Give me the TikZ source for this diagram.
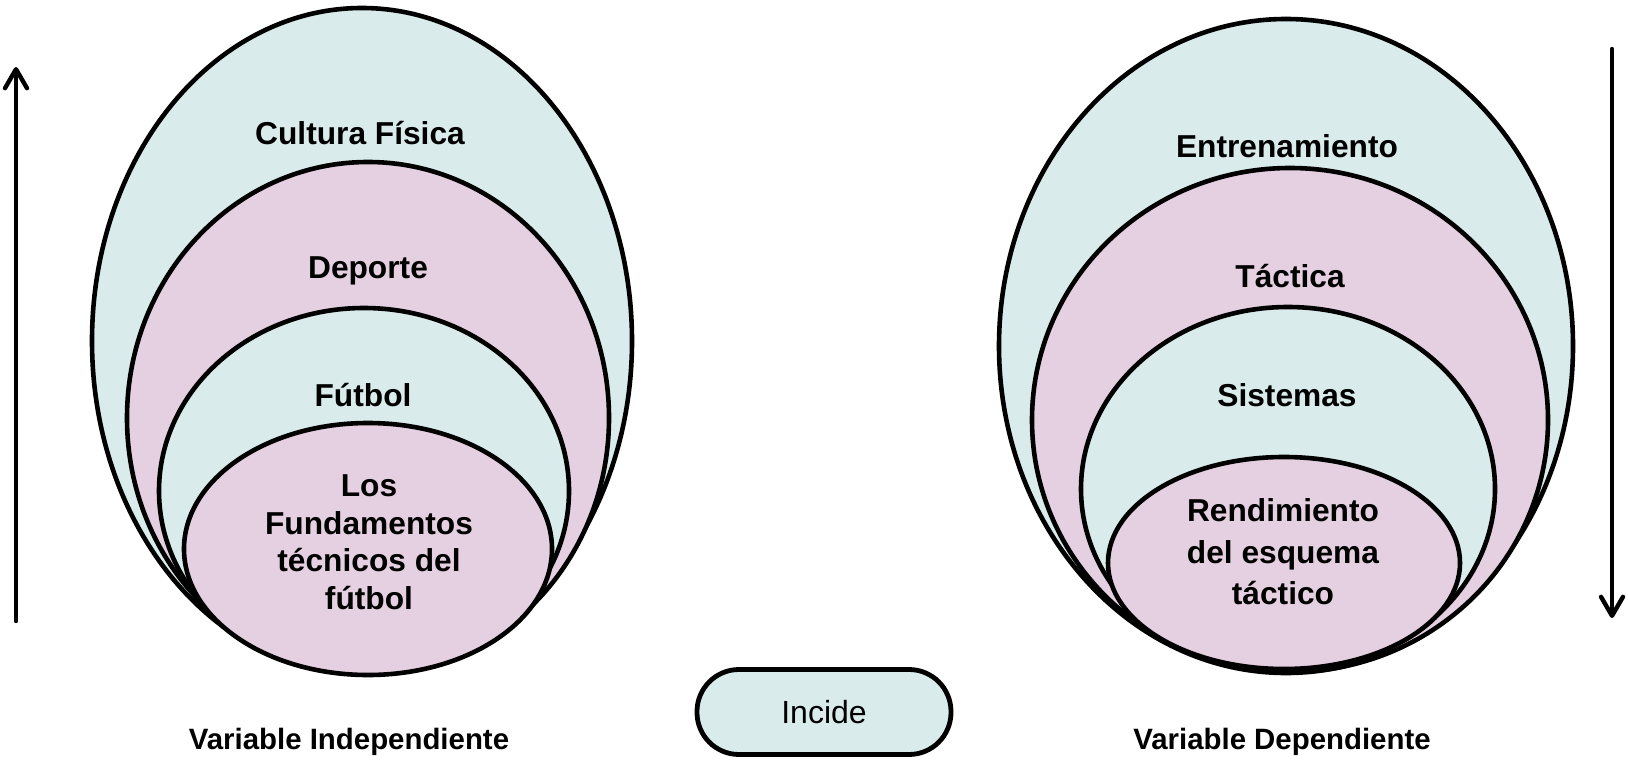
\documentclass[tikz,border=0pt]{standalone}
\usepackage{fontspec}
\setmainfont{Liberation Sans}
\usetikzlibrary{arrows.meta}
\definecolor{aqua}{RGB}{218,235,235}
\definecolor{lilac}{RGB}{228,208,225}
\begin{document}
\begin{tikzpicture}[x=1pt,y=-1pt,
  ring/.style={draw=black,line width=4.6pt},
  lbl/.style={font=\fontsize{31.7}{37.5}\selectfont\bfseries,align=center,inner sep=0pt},
  lbltall/.style={font=\fontsize{31.7}{41.5}\selectfont\bfseries,align=center,inner sep=0pt},
  caption/.style={font=\fontsize{29.4}{34}\selectfont\bfseries,inner sep=0pt},
  flow/.style={line width=4.4pt,line cap=round,-{Straight Barb[length=19pt,width=22pt,line cap=round,line join=round]}}]
\useasboundingbox (0,0) rectangle (1628,760);

% independent variable: nested levels
\draw[ring,fill=aqua]  (362,341) ellipse [x radius=270, y radius=333];
\draw[ring,fill=lilac] (368,418) ellipse [x radius=241, y radius=256];
\draw[ring,fill=aqua]  (364,491) ellipse [x radius=205, y radius=183];
\draw[ring,fill=lilac] (368,549) ellipse [x radius=184, y radius=126];

\node[lbl] (cultura) at (360,133) {Cultura Física};
\node[lbl] (deporte) at (368,271) {Deporte};
\node[lbl] (futbol)  at (363,395) {Fútbol};
\node[lbl] (fundam)  at (369,542) {Los\\Fundamentos\\técnicos del\\fútbol};

% dependent variable: nested levels
\draw[ring,fill=aqua]  (1286,346) ellipse [x radius=287, y radius=327];
\draw[ring,fill=lilac] (1290,420) ellipse [x radius=258, y radius=252];
\draw[ring,fill=aqua]  (1288,489) ellipse [x radius=207, y radius=182];
\draw[ring,fill=lilac] (1284,563) ellipse [x radius=176, y radius=106];

\node[lbl] (entren)   at (1287,146) {Entrenamiento};
\node[lbl] (tactica)  at (1290,276) {Táctica};
\node[lbl] (sistemas) at (1287,395) {Sistemas};
\node[lbltall] (rendim) at (1283,552) {Rendimiento\\del esquema\\táctico};

% captions
\node[caption] (vi) at (349,742) {Variable Independiente};
\node[caption] (vd) at (1282,742) {Variable Dependiente};

% link between both variables
\node[draw=black,line width=4.8pt,fill=aqua,rounded corners=42pt,
      minimum width=254pt,minimum height=85pt,inner sep=0pt,
      font=\fontsize{32}{38}\selectfont] (incide) at (824,712) {Incide};

% direction arrows
\coordinate (upfoot) at (16,621);
\coordinate (uphead) at (16,67);
\coordinate (downfoot) at (1612,49);
\coordinate (downhead) at (1612,618);
\draw[flow] (upfoot) -- (uphead);
\draw[flow] (downfoot) -- (downhead);
\end{tikzpicture}
\end{document}
